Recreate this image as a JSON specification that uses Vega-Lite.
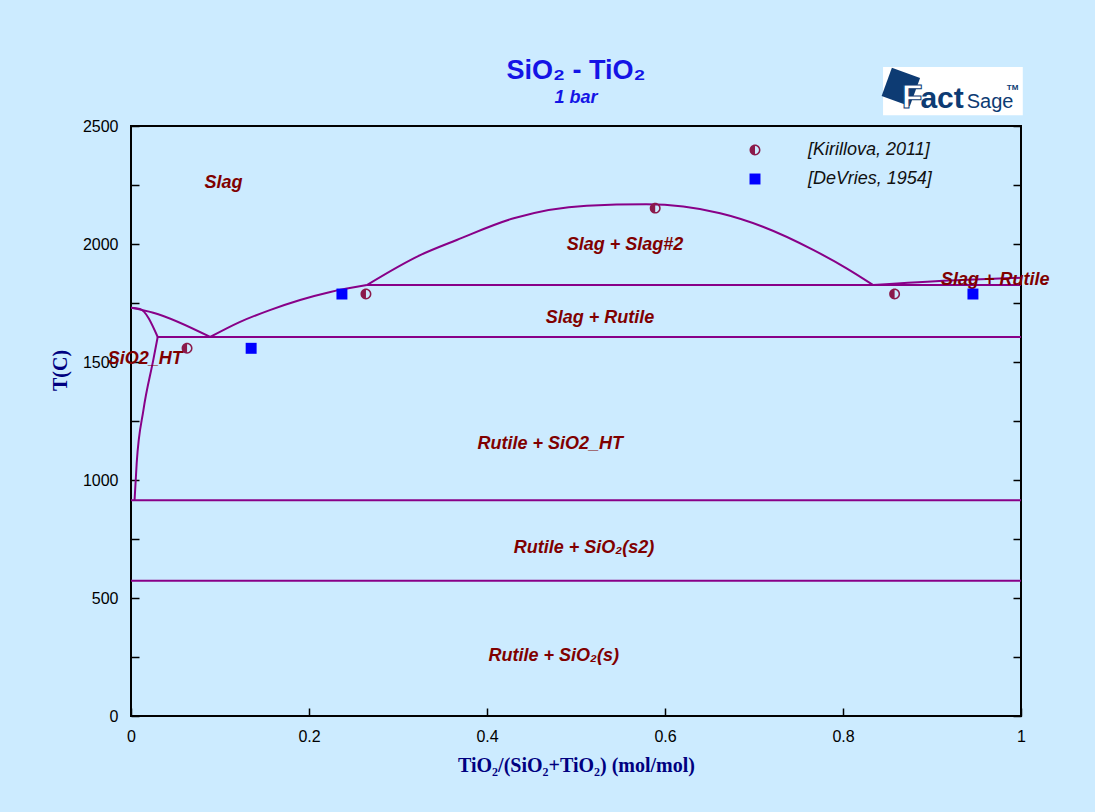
{
  "$schema": "https://vega.github.io/schema/vega-lite/v6.json",
  "width": 890,
  "height": 590,
  "autosize": {"type": "none"},
  "padding": {"left": 131, "top": 126, "right": 74, "bottom": 96},
  "background": "#CCEBFF",
  "config": {
    "view": {"stroke": "#000000", "strokeWidth": 2},
    "font": "Liberation Sans",
    "axis": {
      "grid": false,
      "domain": false,
      "tickColor": "#000000",
      "tickWidth": 1.5,
      "labelFont": "Liberation Sans",
      "labelFontSize": 16,
      "labelColor": "#000000",
      "labelFlush": false,
      "titleFont": "Liberation Serif",
      "titleFontSize": 20,
      "titleFontWeight": "bold",
      "titleColor": "#000080"
    },
    "legend": {
      "orient": "none",
      "legendX": 615,
      "legendY": 15,
      "padding": 0,
      "labelFont": "Liberation Sans",
      "labelFontSize": 18,
      "labelFontStyle": "italic",
      "labelColor": "#111111",
      "labelOffset": 44,
      "rowPadding": 11,
      "symbolSize": 120,
      "symbolStrokeWidth": 0
    }
  },
  "title": {
    "text": "SiO₂ - TiO₂",
    "subtitle": "1 bar",
    "anchor": "middle",
    "font": "Liberation Sans",
    "fontSize": 27,
    "fontWeight": "bold",
    "color": "#1414E6",
    "subtitleFont": "Liberation Sans",
    "subtitleFontSize": 18,
    "subtitleFontWeight": "bold",
    "subtitleFontStyle": "italic",
    "subtitleColor": "#1414E6",
    "subtitlePadding": 4,
    "offset": -41
  },
  "datasets": {
    "lines": [
      {"seg": "eut", "i": 0, "x": 0.03, "T": 1606},
      {"seg": "eut", "i": 1, "x": 1.0, "T": 1606},
      {"seg": "t914", "i": 0, "x": 0.0, "T": 914},
      {"seg": "t914", "i": 1, "x": 1.0, "T": 914},
      {"seg": "t573", "i": 0, "x": 0.0, "T": 573},
      {"seg": "t573", "i": 1, "x": 1.0, "T": 573},
      {"seg": "mono", "i": 0, "x": 0.265, "T": 1826},
      {"seg": "mono", "i": 1, "x": 1.0, "T": 1826},
      {"seg": "dome", "i": 0, "x": 0.265, "T": 1826},
      {"seg": "dome", "i": 1, "x": 0.325, "T": 1953},
      {"seg": "dome", "i": 2, "x": 0.366, "T": 2017},
      {"seg": "dome", "i": 3, "x": 0.43, "T": 2109},
      {"seg": "dome", "i": 4, "x": 0.512, "T": 2162},
      {"seg": "dome", "i": 5, "x": 0.579, "T": 2168},
      {"seg": "dome", "i": 6, "x": 0.662, "T": 2130},
      {"seg": "dome", "i": 7, "x": 0.71, "T": 2073},
      {"seg": "dome", "i": 8, "x": 0.767, "T": 1974},
      {"seg": "dome", "i": 9, "x": 0.804, "T": 1897},
      {"seg": "dome", "i": 10, "x": 0.834, "T": 1826},
      {"seg": "rutliq", "i": 0, "x": 0.834, "T": 1826},
      {"seg": "rutliq", "i": 1, "x": 0.92, "T": 1845},
      {"seg": "rutliq", "i": 2, "x": 1.0, "T": 1857},
      {"seg": "slagliq", "i": 0, "x": 0.089, "T": 1606},
      {"seg": "slagliq", "i": 1, "x": 0.122, "T": 1669},
      {"seg": "slagliq", "i": 2, "x": 0.156, "T": 1720},
      {"seg": "slagliq", "i": 3, "x": 0.19, "T": 1763},
      {"seg": "slagliq", "i": 4, "x": 0.224, "T": 1797},
      {"seg": "slagliq", "i": 5, "x": 0.265, "T": 1826},
      {"seg": "sio2liq", "i": 0, "x": 0.0, "T": 1730},
      {"seg": "sio2liq", "i": 1, "x": 0.025, "T": 1709},
      {"seg": "sio2liq", "i": 2, "x": 0.089, "T": 1606},
      {"seg": "solidus", "i": 0, "x": 0.0, "T": 1730},
      {"seg": "solidus", "i": 1, "x": 0.01, "T": 1725},
      {"seg": "solidus", "i": 2, "x": 0.03, "T": 1606},
      {"seg": "solvus", "i": 0, "x": 0.03, "T": 1606},
      {"seg": "solvus", "i": 1, "x": 0.025, "T": 1508},
      {"seg": "solvus", "i": 2, "x": 0.014, "T": 1297},
      {"seg": "solvus", "i": 3, "x": 0.0064, "T": 1072},
      {"seg": "solvus", "i": 4, "x": 0.004, "T": 914}
    ],
    "labels": [
      {"label": "Slag", "x": 0.104, "T": 2258},
      {"label": "Slag + Slag#2", "x": 0.555, "T": 1996},
      {"label": "Slag + Rutile", "x": 0.971, "T": 1849},
      {"label": "Slag + Rutile", "x": 0.527, "T": 1686},
      {"label": "SiO2_HT", "x": 0.016, "T": 1513},
      {"label": "Rutile + SiO2_HT", "x": 0.471, "T": 1152},
      {"label": "Rutile + SiO₂(s2)", "x": 0.509, "T": 712},
      {"label": "Rutile + SiO₂(s)", "x": 0.475, "T": 254}
    ],
    "points": [
      {"source": "[Kirillova, 2011]", "x": 0.063, "T": 1558},
      {"source": "[Kirillova, 2011]", "x": 0.264, "T": 1788},
      {"source": "[Kirillova, 2011]", "x": 0.589, "T": 2152},
      {"source": "[Kirillova, 2011]", "x": 0.858, "T": 1788},
      {"source": "[DeVries, 1954]", "x": 0.135, "T": 1558},
      {"source": "[DeVries, 1954]", "x": 0.237, "T": 1788},
      {"source": "[DeVries, 1954]", "x": 0.946, "T": 1788}
    ],
    "logobox": [
      {"x": 0.845, "x2": 1.002, "T": 2546, "T2": 2750}
    ],
    "logomark": [
      {"x": 0.865, "T": 2665}
    ],
    "logotext": [
      {"part": "F", "x": 0.866, "T": 2576},
      {"part": "act", "x": 0.887, "T": 2576},
      {"part": "Sage", "x": 0.939, "T": 2576},
      {"part": "TM", "x": 0.984, "T": 2660}
    ]
  },
  "layer": [
    {
      "data": {"name": "lines"},
      "mark": {"type": "line", "color": "#880088", "strokeWidth": 2, "clip": true, "interpolate": "monotone"},
      "encoding": {
        "x": {
          "field": "x",
          "type": "quantitative",
          "scale": {"domain": [0, 1], "nice": false, "zero": false},
          "axis": {
            "title": "TiO₂/(SiO₂+TiO₂) (mol/mol)",
            "values": [0, 0.2, 0.4, 0.6, 0.8, 1],
            "format": "~g",
            "tickSize": -8,
            "labelPadding": 20,
            "titlePadding": 11
          }
        },
        "y": {
          "field": "T",
          "type": "quantitative",
          "scale": {"domain": [0, 2500], "nice": false, "zero": false},
          "axis": {
            "title": "T(C)",
            "orient": "left",
            "values": [0, 250, 500, 750, 1000, 1250, 1500, 1750, 2000, 2250, 2500],
            "format": "d",
            "labelExpr": "datum.value % 500 === 0 ? datum.label : ''",
            "tickSize": -8,
            "labelPadding": 21,
            "titlePadding": 12,
            "titleY": 244
          }
        },
        "detail": {"field": "seg"},
        "order": {"field": "i", "type": "quantitative"}
      }
    },
    {
      "data": {"name": "labels"},
      "mark": {"type": "text", "font": "Liberation Sans", "fontSize": 18, "fontWeight": "bold", "fontStyle": "italic", "color": "#800000"},
      "encoding": {
        "x": {"field": "x", "type": "quantitative"},
        "y": {"field": "T", "type": "quantitative", "axis": null},
        "text": {"field": "label"}
      }
    },
    {
      "data": {"name": "points"},
      "mark": {"type": "point", "filled": true, "size": 120, "opacity": 1},
      "encoding": {
        "x": {"field": "x", "type": "quantitative"},
        "y": {
          "field": "T",
          "type": "quantitative",
          "axis": {
            "title": null,
            "orient": "right",
            "values": [0, 250, 500, 750, 1000, 1250, 1500, 1750, 2000, 2250, 2500],
            "labels": false,
            "tickSize": -8
          }
        },
        "color": {
          "field": "source",
          "type": "nominal",
          "scale": {"domain": ["[Kirillova, 2011]", "[DeVries, 1954]"], "range": ["#8B1A4B", "#0000FF"]},
          "legend": {"title": null}
        },
        "shape": {
          "field": "source",
          "type": "nominal",
          "scale": {"domain": ["[Kirillova, 2011]", "[DeVries, 1954]"], "range": ["M0,-1A1,1,0,0,0,0,1Z M0,-1A1,1,0,0,1,0,1L0,0.72A0.72,0.72,0,0,0,0,-0.72Z", "square"]},
          "legend": {"title": null}
        }
      }
    },
    {
      "data": {"name": "logobox"},
      "mark": {"type": "rect", "color": "#FFFFFF"},
      "encoding": {
        "x": {"field": "x", "type": "quantitative"},
        "x2": {"field": "x2"},
        "y": {"field": "T", "type": "quantitative", "axis": null},
        "y2": {"field": "T2"}
      }
    },
    {
      "data": {"name": "logomark"},
      "mark": {"type": "point", "shape": "square", "filled": true, "size": 900, "angle": 20, "color": "#0D3B73", "opacity": 1},
      "encoding": {
        "x": {"field": "x", "type": "quantitative"},
        "y": {"field": "T", "type": "quantitative", "axis": null}
      }
    },
    {
      "data": {"name": "logotext"},
      "transform": [{"filter": "datum.part === 'F'"}],
      "mark": {"type": "text", "font": "Liberation Sans", "fontSize": 34, "fontWeight": "bold", "color": "#FFFFFF", "stroke": "#0D3B73", "strokeWidth": 1, "align": "left", "baseline": "alphabetic"},
      "encoding": {
        "x": {"field": "x", "type": "quantitative"},
        "y": {"field": "T", "type": "quantitative", "axis": null},
        "text": {"field": "part"}
      }
    },
    {
      "data": {"name": "logotext"},
      "transform": [{"filter": "datum.part === 'act'"}],
      "mark": {"type": "text", "font": "Liberation Sans", "fontSize": 30, "fontWeight": "bold", "color": "#0D3B73", "align": "left", "baseline": "alphabetic"},
      "encoding": {
        "x": {"field": "x", "type": "quantitative"},
        "y": {"field": "T", "type": "quantitative", "axis": null},
        "text": {"field": "part"}
      }
    },
    {
      "data": {"name": "logotext"},
      "transform": [{"filter": "datum.part === 'Sage'"}],
      "mark": {"type": "text", "font": "Liberation Sans", "fontSize": 20, "color": "#0D3B73", "align": "left", "baseline": "alphabetic"},
      "encoding": {
        "x": {"field": "x", "type": "quantitative"},
        "y": {"field": "T", "type": "quantitative", "axis": null},
        "text": {"field": "part"}
      }
    },
    {
      "data": {"name": "logotext"},
      "transform": [{"filter": "datum.part === 'TM'"}],
      "mark": {"type": "text", "font": "Liberation Sans", "fontSize": 8, "fontWeight": "bold", "color": "#0D3B73", "align": "left", "baseline": "middle"},
      "encoding": {
        "x": {"field": "x", "type": "quantitative"},
        "y": {"field": "T", "type": "quantitative", "axis": null},
        "text": {"field": "part"}
      }
    }
  ],
  "resolve": {"axis": {"y": "independent"}}
}
